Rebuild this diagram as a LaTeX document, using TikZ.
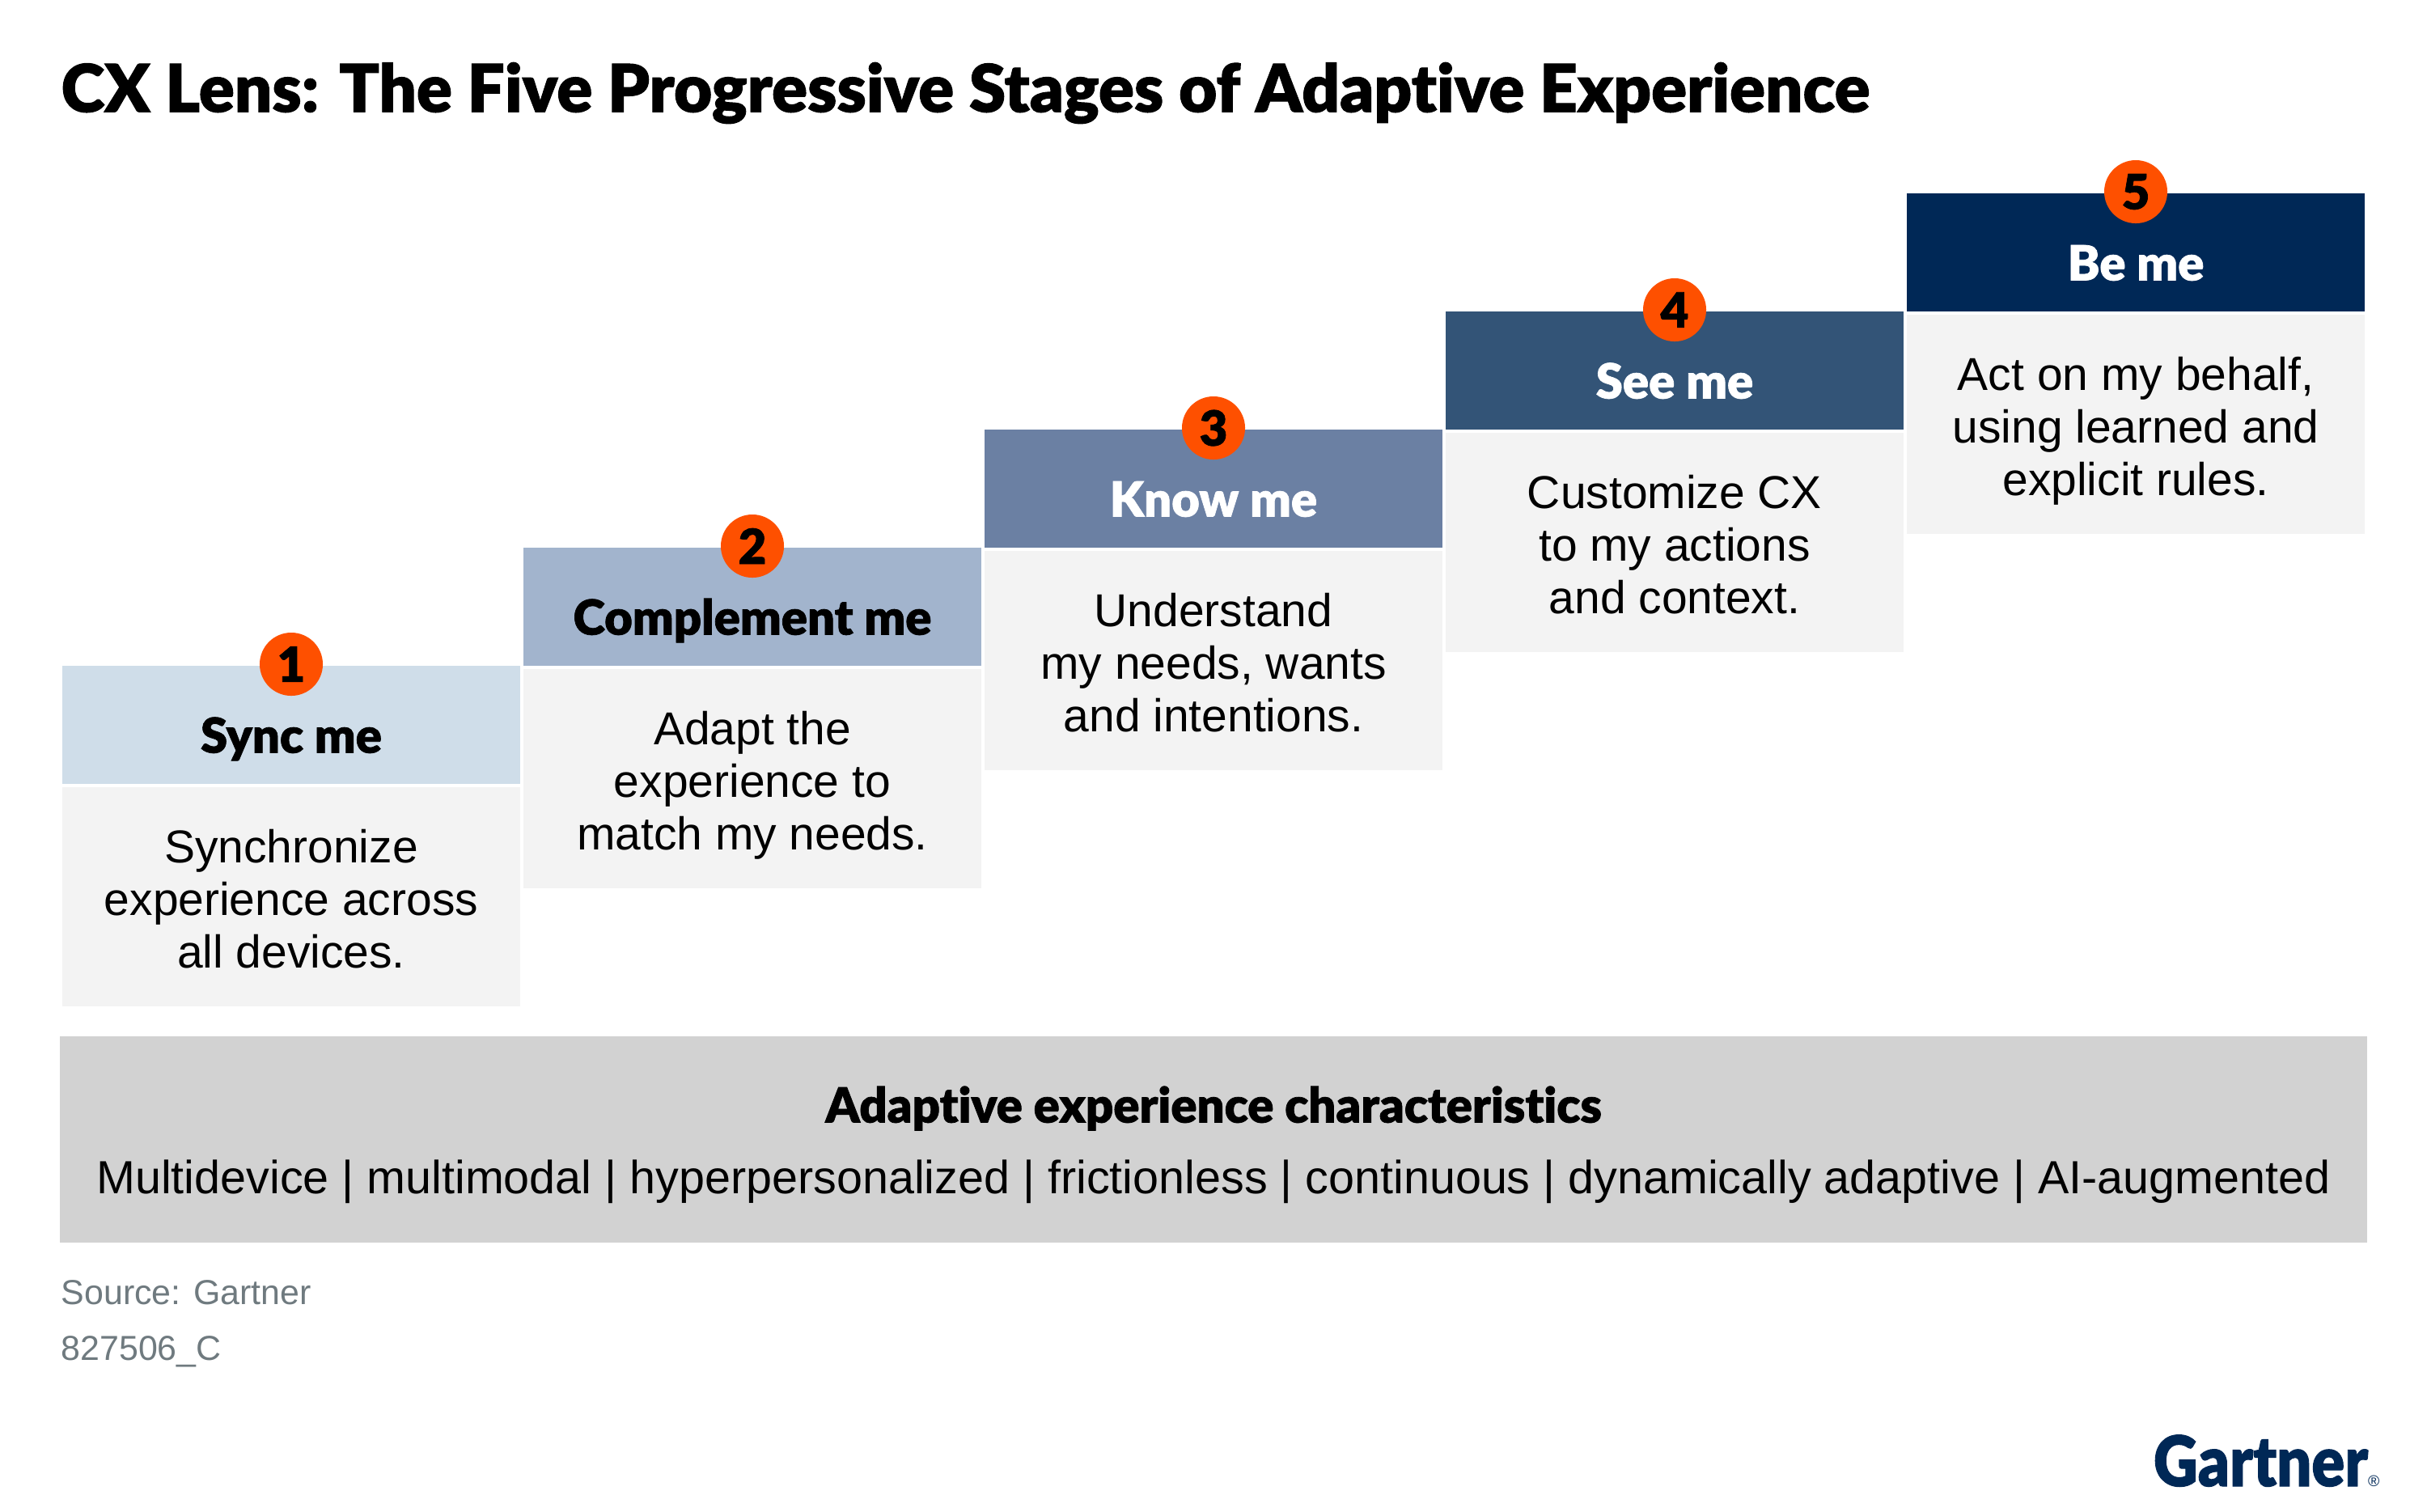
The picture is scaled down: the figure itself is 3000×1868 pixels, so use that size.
\documentclass[tikz,border=0pt]{standalone}
\usepackage{fontspec}
\setmainfont{Liberation Sans}
\newfontfamily\heavyfont[UprightFont={* Black},BoldFont={* Black},Ligatures=NoCommon,FakeBold=1.2]{Lato}
\usepackage{xcolor}
\definecolor{stageone}{HTML}{CFDDE9}
\definecolor{stagetwo}{HTML}{A2B4CD}
\definecolor{stagethree}{HTML}{6B80A3}
\definecolor{stagefour}{HTML}{335477}
\definecolor{stagefive}{HTML}{002856}
\definecolor{bodygrey}{HTML}{F3F3F3}
\definecolor{bandgrey}{HTML}{D2D2D2}
\definecolor{notegrey}{HTML}{6F7A7F}
\definecolor{badgeorange}{HTML}{FE5000}
\tikzset{
  head/.style={minimum width=5.66cm,minimum height=1.46cm,inner sep=0pt},
  headtext/.style={text height=.42cm,text depth=.11cm,inner sep=0pt,
    font=\fontsize{17}{18}\heavyfont},
  blurb/.style={fill=bodygrey,minimum width=5.66cm,minimum height=2.71cm,inner sep=0pt},
  blurbtext/.style={align=center,inner sep=0pt,font=\fontsize{16.2}{18.5}\selectfont,
    execute at begin node=\strut,execute at end node=\strut},
  badge/.style={circle,fill=badgeorange,minimum size=.78cm,inner sep=0pt,
    font=\fontsize{17}{17}\heavyfont},
  note/.style={anchor=west,inner sep=0pt,text=notegrey,font=\fontsize{12.2}{14}\selectfont},
}
\begin{document}
\begin{tikzpicture}[x=0.01cm,y=-0.01cm]
  \useasboundingbox (0,0) rectangle (3000,1868);
  \node (title) [anchor=west,inner sep=0pt,font=\fontsize{23.2}{26}\heavyfont] at (75,115)
    {CX Lens: The Five Progressive Stages of Adaptive Experience};
  % stages
  \node (head1) [head,fill=stageone] at (360,896) {};
  \node (head2) [head,fill=stagetwo] at (930,750) {};
  \node (head3) [head,fill=stagethree] at (1500,604) {};
  \node (head4) [head,fill=stagefour] at (2070,458) {};
  \node (head5) [head,fill=stagefive] at (2640,312) {};
  \node (name1) [headtext] at (360,915) {Sync me};
  \node (name2) [headtext] at (930,769) {Complement me};
  \node (name3) [headtext,text=white] at (1500,623) {Know me};
  \node (name4) [headtext,text=white] at (2070,477) {See me};
  \node (name5) [headtext,text=white] at (2640,331) {Be me};
  \node (blurb1) [blurb] at (360,1108.5) {};
  \node (blurb2) [blurb] at (930,962.5) {};
  \node (blurb3) [blurb] at (1500,816.5) {};
  \node (blurb4) [blurb] at (2070,670.5) {};
  \node (blurb5) [blurb] at (2640,524.5) {};
  \node (text1) [blurbtext] at (360,1121) {Synchronize\\experience across\\all devices.};
  \node (text2) [blurbtext] at (930,975) {Adapt the\\experience to\\match my needs.};
  \node (text3) [blurbtext] at (1500,829) {Understand\\my needs, wants\\and intentions.};
  \node (text4) [blurbtext] at (2070,683) {Customize CX\\to my actions\\and context.};
  \node (text5) [blurbtext] at (2640,537) {Act on my behalf,\\using learned and\\explicit rules.};
  \node (badge1) [badge] at (360,821) {1};
  \node (badge2) [badge] at (930,675) {2};
  \node (badge3) [badge] at (1500,529) {3};
  \node (badge4) [badge] at (2070,383) {4};
  \node (badge5) [badge] at (2640,237) {5};
  % characteristics band
  \node (band) [fill=bandgrey,minimum width=28.5cm,minimum height=2.55cm,inner sep=0pt] at (1500,1408.5) {};
  \node (bandhead) [font=\fontsize{17}{18}\heavyfont] at (1500,1370) {Adaptive experience characteristics};
  \node (bandtext) [font=\fontsize{16.35}{18}\selectfont] at (1500,1461)
    {Multidevice | multimodal | hyperpersonalized | frictionless | continuous | dynamically adaptive | AI-augmented};
  \node (source) [note] at (75,1598) {Source: Gartner};
  \node (docid) [note] at (75,1671) {827506\_C};
  \node (logo) [anchor=base east,text=stagefive,inner sep=0pt,font=\fontsize{24.5}{30}\heavyfont] at (2942,1837)
    {\scalebox{.88}[1]{Gartner}{\fontsize{5.5}{5.5}\rmfamily\textregistered}};
\end{tikzpicture}
\end{document}
